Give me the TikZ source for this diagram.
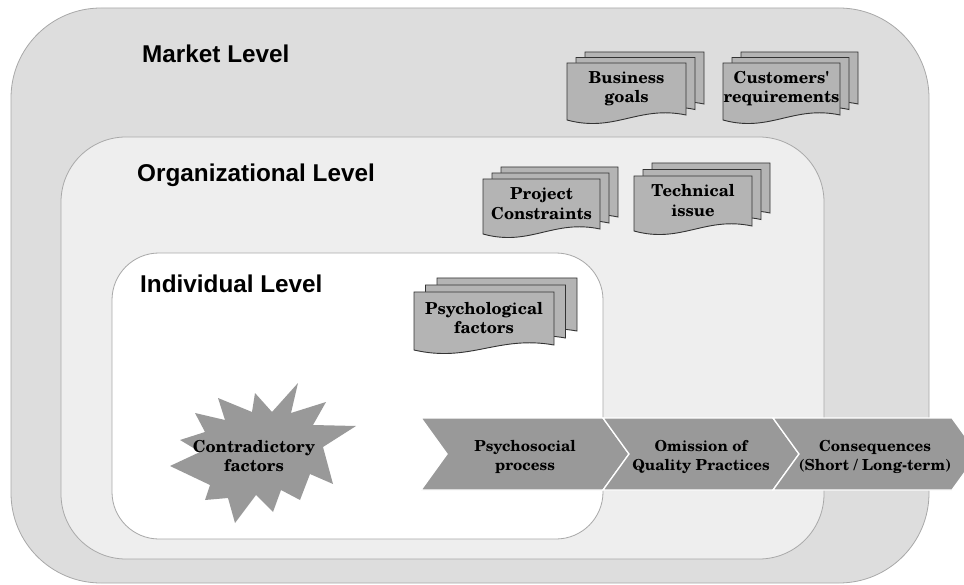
\documentclass[tikz,border=0pt]{standalone}
\usepackage{fontspec}
\newfontfamily\lvlfont{Liberation Sans}
\newfontfamily\docfont{TeX Gyre Schola}
\definecolor{outerfill}{HTML}{DDDDDD}
\definecolor{midfill}{HTML}{EEEEEE}
\definecolor{bordergray}{HTML}{A8A8A8}
\definecolor{docgray}{HTML}{B4B4B4}
\definecolor{docline}{HTML}{333333}
\definecolor{chevgray}{HTML}{999999}
\tikzset{
  lvlbox/.style={draw=bordergray, line width=0.8pt},
  lvltext/.style={font=\lvlfont\bfseries\fontsize{24.3}{28}\selectfont, anchor=base west, inner sep=0pt},
  pagebox/.style={fill=docgray, draw=docline, line width=0.9pt},
  doctext/.style={font=\docfont\bfseries\fontsize{16.5}{19.5}\selectfont, align=center, inner sep=0pt},
  chevbox/.style={fill=chevgray, draw=white, line width=1.3pt, line join=miter},
  chevtext/.style={font=\docfont\bfseries\fontsize{15.2}{18.5}\selectfont, align=center, inner sep=0pt},
}
% name, x, y, w, h, dx, dy, text
\newcommand\docstack[8]{%
  \foreach \k in {2,1,0}{%
    \begin{scope}[shift={({#2+\k*#6},{#3-\k*#7})}]
      \draw[pagebox] (0,0) -- (#4,0) -- (#4,#5-5)
        .. controls ({0.6*#4},#5-15) and ({0.4*#4},#5+13) .. (0,#5) -- cycle;
    \end{scope}
  }
  \node[doctext] (#1) at ({#2+#4/2},{#3+0.45*#5}) {#8};
}
\begin{document}
\begin{tikzpicture}[x=1pt, y=-1pt]
\clip (0,0) rectangle (964,585);
\useasboundingbox (0,0) rectangle (964,585);

% levels
\draw[lvlbox, fill=outerfill, rounded corners=90pt] (11,8) rectangle (929,583);
\draw[lvlbox, fill=midfill, rounded corners=65pt] (61,137) rectangle (824,559);
\draw[lvlbox, fill=white, rounded corners=47pt] (112,253) rectangle (603,539);

\node[lvltext] (market) at (142,63) {Market Level};
\node[lvltext] (org) at (137,182) {Organizational Level};
\node[lvltext] (indiv) at (140,293) {Individual Level};

% document stacks
\docstack{business}{567}{63}{119}{57}{9}{5.5}{Business\\goals}
\docstack{customers}{723}{63}{117}{57}{9}{5.5}{Customers'\\requirements}
\docstack{project}{483}{179}{117}{55}{9}{6}{Project\\Constraints}
\docstack{technical}{634}{176}{118}{55}{9}{6.5}{Technical\\issue}
\docstack{psych}{414}{292}{140}{58}{11.5}{7}{Psychological\\factors}

% starburst
\fill[chevgray] (298,383) -- (291,413) -- (326,402) -- (313,425) -- (356,426)
  -- (323,447) -- (333,484) -- (310,474) -- (300,500) -- (281,490) -- (273,512)
  -- (256,495) -- (235,523) -- (228,498) -- (205,500) -- (210,485) -- (170,466)
  -- (200,452) -- (180,440) -- (205,432) -- (195,413) -- (225,420) -- (218,398)
  -- (252,412) -- (255,393) -- (272,412) -- cycle;
\node[doctext] (contra) at (254,456) {Contradictory\\factors};

% chevrons
\draw[chevbox] (421,418) -- (603,418) -- (629,454) -- (603,490) -- (421,490) -- (447,454) -- cycle;
\draw[chevbox] (603,418) -- (773,418) -- (799,454) -- (773,490) -- (603,490) -- (629,454) -- cycle;
\draw[chevbox] (773,418) -- (952,418) -- (978,454) -- (952,490) -- (773,490) -- (799,454) -- cycle;
\node[chevtext] (psychosocial) at (525,457) {Psychosocial\\process};
\node[chevtext] (omission) at (701,457) {Omission of\\Quality Practices};
\node[chevtext] (conseq) at (875,457) {Consequences\\(Short / Long-term)};
\end{tikzpicture}
\end{document}
